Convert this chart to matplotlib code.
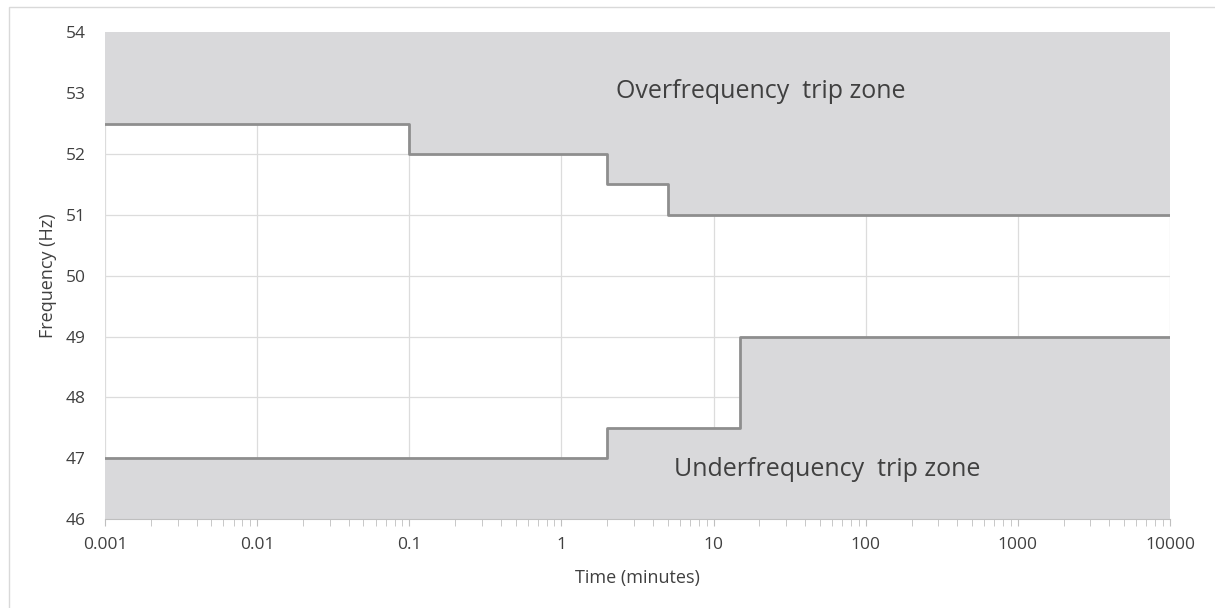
import numpy as np
import matplotlib
matplotlib.use("Agg")
import matplotlib.pyplot as plt
from matplotlib.patches import Rectangle
from matplotlib.ticker import LogLocator, FixedLocator, FuncFormatter

# ==========================================
# DATA
# ==========================================
# upper trip limit (over-frequency), step after each time
over_t = [0.001, 0.1, 2, 5, 10000]
over_f = [52.5, 52.0, 51.5, 51.0, 51.0]

# lower trip limit (under-frequency)
under_t = [0.001, 2, 15, 10000]
under_f = [47.0, 47.5, 49.0, 49.0]

x_ticks = [0.001, 0.01, 0.1, 1, 10, 100, 1000, 10000]
x_labels = ["0.001", "0.01", "0.1", "1", "10", "100", "1000", "10000"]
y_ticks = [46, 47, 48, 49, 50, 51, 52, 53, 54]

# ==========================================
# STYLE
# ==========================================
plt.rcParams["font.family"] = ["Open Sans", "DejaVu Sans"]
fill_col = "#d9d9db"
line_col = "#8e8e8e"
grid_col = "#dcdcdc"
text_col = "#404040"

fig = plt.figure(figsize=(12.15, 6.08), dpi=100)
ax = fig.add_axes([0.0864, 0.146, 0.8766, 0.801])

# outer chart frame
fig.patches.append(Rectangle((0.007, -0.1), 1.1, 1.088, transform=fig.transFigure,
                             fill=False, edgecolor="#d9d9d9", linewidth=1.0))

ax.set_xscale("log")
ax.set_xlim(0.001, 10000)
ax.set_ylim(46, 54)

# zones
ax.fill_between(over_t, over_f, 54, step="post", color=fill_col, zorder=2, linewidth=0)
ax.fill_between(under_t, 46, under_f, step="post", color=fill_col, zorder=2, linewidth=0)

# limit lines
ax.step(over_t, over_f, where="post", color=line_col, linewidth=2, zorder=3)
ax.step(under_t, under_f, where="post", color=line_col, linewidth=2, zorder=3)

# grid
ax.grid(True, which="major", color=grid_col, linewidth=0.9, zorder=1)
ax.set_axisbelow(True)

ax.xaxis.set_major_locator(FixedLocator(x_ticks))
ax.xaxis.set_major_formatter(FuncFormatter(lambda v, p: x_labels[x_ticks.index(v)] if v in x_ticks else ""))
ax.xaxis.set_minor_locator(LogLocator(base=10, subs=np.arange(2, 10)))
ax.set_yticks(y_ticks)

for s in ["top", "right", "left"]:
    ax.spines[s].set_visible(False)
ax.spines["bottom"].set_color("#bfbfbf")
ax.spines["bottom"].set_zorder(4)

ax.tick_params(axis="x", which="major", direction="out", length=5, color="#bfbfbf",
               labelsize=12.5, labelcolor=text_col, pad=8)
ax.tick_params(axis="x", which="minor", direction="out", length=5, color="#bfbfbf")
ax.tick_params(axis="y", which="both", length=0, labelsize=12.5, labelcolor=text_col, pad=14)

ax.set_xlabel("Time (minutes)", fontsize=13, color=text_col, labelpad=11)
ax.set_ylabel("Frequency (Hz)", fontsize=13, color=text_col, labelpad=6)

ax.text(20.5, 53.02, "Overfrequency  trip zone", fontsize=18, color=text_col,
        ha="center", va="center", zorder=5)
ax.text(56, 46.81, "Underfrequency  trip zone", fontsize=18, color=text_col,
        ha="center", va="center", zorder=5)

plt.savefig("out.png", dpi=100)
